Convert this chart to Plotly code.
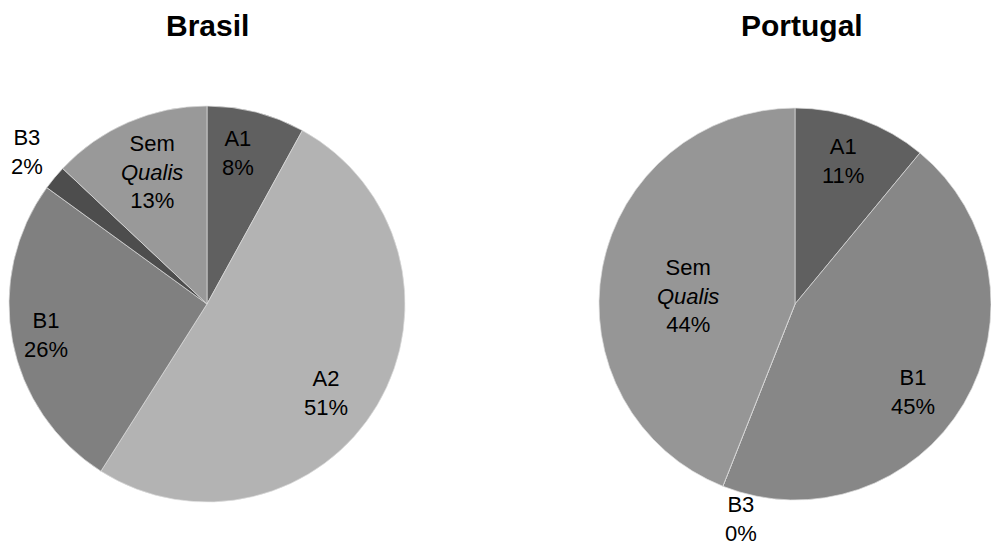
import math
import plotly.graph_objects as go

W, H = 991, 548

# ---- data ----
br_labels = ["A1", "A2", "B1", "B3", "Sem<br><i>Qualis</i>"]
br_values = [8, 51, 26, 2, 13]
br_colors = ["#606060", "#b3b3b3", "#808080", "#4d4d4d", "#999999"]

pt_labels = ["A1", "B1", "B3", "Sem<br><i>Qualis</i>"]
pt_values = [11, 45, 0, 44]
pt_colors = ["#606060", "#878787", "#4d4d4d", "#969696"]

titles = ["Brasil", "Portugal"]

# label placement (style): distance as fraction of radius, angle nudge in degrees
br_label_r = [0.78, 0.75, 0.83, 1.19, 0.72]
br_label_da = [-3.0, 6.4, 0.0, 0.7, 0.8]
pt_label_r = [0.77, 0.75, 1.13, 0.55]
pt_label_da = [-1.4, 6.0, -7.5, -6.4]

FONT = "Liberation Sans, Arial, sans-serif"

# pie boxes in pixels (left, right, top, bottom)
boxes = [(9, 405, 106, 502), (599, 991, 106, 502)]


def dom(box):
    l, r, t, b = box
    return dict(x=[l / W, r / W], y=[(H - b) / H, (H - t) / H])


fig = go.Figure()
series = [
    (br_labels, br_values, br_colors, br_label_r, br_label_da),
    (pt_labels, pt_values, pt_colors, pt_label_r, pt_label_da),
]
for (labels, values, colors, lr, lda), box in zip(series, boxes):
    fig.add_trace(go.Pie(
        labels=labels, values=values, sort=False, direction="clockwise",
        rotation=0,
        marker=dict(colors=colors, line=dict(color="#dddddd", width=0.7)),
        textinfo="none", hoverinfo="label+percent", showlegend=False,
        domain=dom(box),
    ))
    l, r, t, b = box
    cx, cy = (l + r) / 2, (t + b) / 2
    rad = min(r - l, b - t) / 2
    total = float(sum(values))
    cum = 0.0
    for lab, v, f, da in zip(labels, values, lr, lda):
        mid = (cum + v / 2) / total * 2 * math.pi + math.radians(da)
        cum += v
        x = cx + f * rad * math.sin(mid)
        y = cy - f * rad * math.cos(mid)
        fig.add_annotation(
            text="%s<br>%d%%" % (lab, v), x=x / W, y=(H - y) / H,
            xref="paper", yref="paper", showarrow=False,
            xanchor="center", yanchor="middle", borderpad=0,
            font=dict(family=FONT, size=22, color="#000000"),
        )

for t, cx in zip(titles, [207, 802]):
    fig.add_annotation(text="<b>%s</b>" % t, x=cx / W, y=(H - 25) / H,
                       xref="paper", yref="paper", showarrow=False,
                       xanchor="center", yanchor="middle",
                       font=dict(family=FONT, size=30, color="#000000"))

fig.update_layout(width=W, height=H, margin=dict(l=0, r=0, t=0, b=0),
                  paper_bgcolor="white", plot_bgcolor="white")

fig.write_html("out.html")
